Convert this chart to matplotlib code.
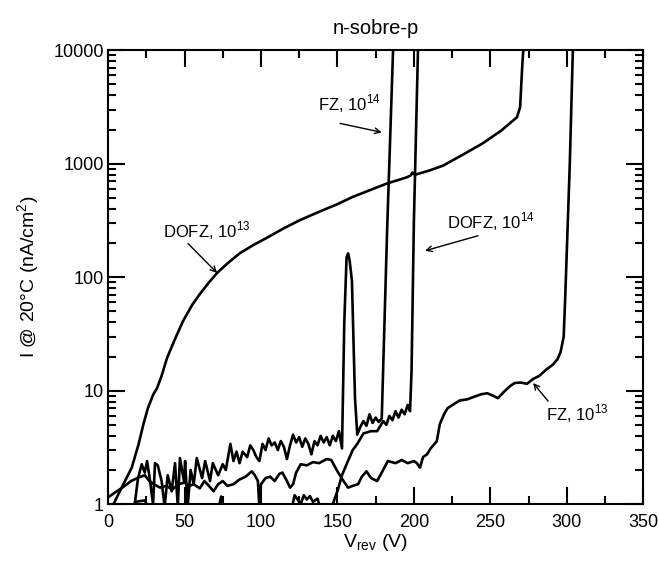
import matplotlib.pyplot as plt
from matplotlib.ticker import FixedLocator, NullFormatter

plt.rcParams['font.family'] = ['Liberation Sans', 'DejaVu Sans']

# DOFZ, 1e13 (smooth curve, breakdown near 270 V)
dofz13_v = [2, 5, 10, 15.5, 20, 23, 26, 29.6, 32, 35, 38.6, 44, 49, 55, 60, 66, 71, 78,
            86, 95, 104, 115, 125, 137, 150, 160, 172, 182.5, 190, 195.6, 198, 199, 200,
            201, 210, 219, 232, 245, 257, 267.5, 269.5, 271, 272, 272.5]
dofz13_i = [0.9, 1.1, 1.5, 2.1, 3.4, 5.0, 7.0, 9.3, 10.5, 13.5, 19.5, 29, 41, 57, 71, 90,
            108, 132, 162, 192, 223, 270, 316, 372, 440, 510, 590, 670, 720, 760, 790,
            835, 810, 800, 870, 960, 1200, 1510, 1950, 2570, 3150, 7700, 12000, 20000]

# FZ, 1e14 (noisy, spike near 157 V, breakdown near 182 V)
fz14_v = [17, 19.6, 22, 24, 25.5, 27.5, 29.4, 30.7, 32.5, 35, 37, 39, 41.6, 43.8, 45.6,
          47, 49.6, 50.4, 52, 54, 56, 58, 61.5, 63.5, 66.7, 68.5, 72, 75, 77, 80, 82,
          84, 86, 88, 91, 93, 95, 97, 99, 101, 103, 105, 107, 109, 111, 113, 115, 117,
          119, 121, 123, 125, 127, 129, 131, 133, 135, 137, 139, 141, 143, 145, 147,
          149, 151, 153, 154.5, 156, 157, 158, 159.5, 161.5, 163, 165, 167, 169, 171,
          173, 175, 177, 179, 180, 182.5, 186.4, 187]
fz14_i = [0.9, 1.7, 2.25, 1.9, 2.4, 1.6, 1.0, 2.3, 2.2, 1.6, 0.95, 1.8, 1.3, 2.3, 0.95,
          2.55, 1.6, 2.4, 0.95, 2.0, 1.5, 2.55, 1.7, 2.4, 1.6, 2.3, 1.8, 2.25, 2.0, 3.4,
          2.4, 2.9, 2.3, 2.9, 2.6, 3.3, 3.0, 2.6, 2.4, 3.4, 3.0, 3.8, 3.3, 3.5, 3.0, 3.6,
          3.2, 2.5, 3.3, 4.1, 3.5, 3.9, 3.2, 3.8, 3.4, 2.75, 3.6, 3.3, 4.0, 3.5, 3.9,
          3.3, 4.0, 3.6, 4.4, 3.1, 40, 150, 162, 140, 93, 8.6, 4.1, 4.8, 5.4, 4.9, 6.2,
          5.2, 5.8, 5.3, 5.7, 17, 256, 10000, 20000]

# DOFZ, 1e14 (below 1 nA/cm2 until ~147 V, breakdown near 200 V)
dofz14_v = [0, 14, 18, 24, 27, 72, 74, 75, 120, 122, 124, 126, 128, 130, 132, 134, 137,
            139, 146, 148, 150, 153, 156, 160, 163, 167, 172, 176, 180, 182, 184, 186,
            188, 190, 192, 194, 196, 197.5, 198.5, 200, 202.7, 203]
dofz14_i = [0.8, 0.9, 1.05, 1.08, 0.9, 0.9, 1.17, 0.9, 0.9, 1.2, 1.1, 1.0, 1.2, 1.1,
            1.18, 1.05, 1.12, 0.9, 0.9, 1.1, 1.3, 1.8, 2.25, 3.0, 3.4, 4.2, 4.4, 4.4,
            5.4, 5.0, 6.0, 5.5, 6.6, 5.8, 6.8, 6.2, 7.5, 6.6, 15, 300, 10000, 20000]

# FZ, 1e13 (low curve, breakdown near 300 V)
fz13_v = [0, 5, 10, 15, 20, 24, 27, 30, 34, 38, 42, 46, 50, 53, 56, 60, 63, 66, 69, 72,
          75, 78, 82, 86, 90, 94, 96, 98, 99, 100, 103, 106, 109, 112, 114, 117, 119,
          121, 123, 126, 130, 134, 138, 143, 146, 150, 154, 157, 160, 163.5, 166, 169,
          172, 176, 179, 183, 188, 192, 196, 200, 202, 204, 206, 208.6, 211, 215, 217,
          220, 222, 226, 230, 235, 240, 244, 248, 252, 255, 259, 263, 266, 270, 274,
          278, 282, 287, 291, 294, 296, 298, 299, 302, 304, 304.5]
fz13_i = [1.15, 1.28, 1.42, 1.6, 1.72, 1.8, 1.6, 1.5, 1.4, 1.45, 1.35, 1.5, 1.55, 1.45,
          1.5, 1.38, 1.6, 1.45, 1.3, 1.5, 1.6, 1.45, 1.5, 1.65, 1.75, 1.95, 1.8, 1.6,
          0.9, 1.5, 1.7, 1.75, 1.6, 1.85, 1.9, 1.6, 1.4, 1.5, 1.9, 2.25, 2.2, 2.35, 2.3,
          2.5, 2.45, 1.95, 1.6, 1.4, 1.45, 1.5, 1.75, 1.95, 1.7, 1.6, 1.9, 2.4, 2.3,
          2.45, 2.3, 2.4, 2.3, 2.1, 2.6, 2.75, 3.1, 3.6, 5.1, 6.3, 7.0, 7.6, 8.2, 8.4,
          8.9, 9.3, 9.5, 9.0, 8.6, 9.8, 11.0, 11.7, 11.8, 11.5, 12.7, 13.5, 15.5, 17,
          19, 22, 30, 66, 1000, 10000, 20000]

x_ticks = [0, 50, 100, 150, 200, 250, 300, 350]
y_ticks = [1, 10, 100, 1000, 10000]
y_labels = ['1', '10', '100', '1000', '10000']

fig = plt.figure(figsize=(6.59, 5.64), dpi=100)
ax = fig.add_axes([0.164, 0.106, 0.812, 0.805])

lw = 1.9
for v, i in [(dofz13_v, dofz13_i), (fz14_v, fz14_i), (dofz14_v, dofz14_i), (fz13_v, fz13_i)]:
    ax.plot(v, i, color='black', lw=lw, solid_joinstyle='round')

ax.set_yscale('log')
ax.set_xlim(0, 350)
ax.set_ylim(1, 10000)

# minor log ticks 2..9 in each decade
y_minor = [k * 10 ** d for d in range(4) for k in range(2, 10)]

ax.xaxis.set_major_locator(FixedLocator(x_ticks))
ax.xaxis.set_minor_locator(FixedLocator([25, 75, 125, 175, 225, 275, 325]))
ax.yaxis.set_major_locator(FixedLocator(y_ticks))
ax.set_yticklabels(y_labels)
ax.yaxis.set_minor_locator(FixedLocator(y_minor))
ax.yaxis.set_minor_formatter(NullFormatter())

ax.tick_params(which='both', direction='in', top=True, right=True, labelsize=13,
               width=1.5, color='black')
ax.tick_params(which='major', length=12)
ax.tick_params(axis='x', which='major', pad=7)
ax.tick_params(axis='y', which='major', pad=3)
ax.tick_params(which='minor', length=6)
for s in ax.spines.values():
    s.set_linewidth(1.5)

ax.set_title('n-sobre-p', fontsize=14.5, pad=12)
ax.set_xlabel('V$_{\\mathregular{rev}}$ (V)', fontsize=14, labelpad=1)
ax.set_ylabel('I @ 20°C (nA/cm$^{\\mathregular{2}}$)', fontsize=14, labelpad=8)

arrow = dict(arrowstyle='->', color='black', lw=1.0, shrinkA=0, shrinkB=0)
ax.annotate('', xy=(179, 1890), xytext=(151.7, 2265), arrowprops=arrow)
ax.text(157.6, 3400, 'FZ, 10$^{\\mathregular{14}}$', ha='center', va='center', fontsize=12)
ax.annotate('', xy=(207.3, 171), xytext=(242, 232), arrowprops=arrow)
ax.text(250.5, 309, 'DOFZ, 10$^{\\mathregular{14}}$', ha='center', va='center', fontsize=12)
ax.annotate('', xy=(71.3, 109), xytext=(52.3, 198), arrowprops=arrow)
ax.text(64.7, 257, 'DOFZ, 10$^{\\mathregular{13}}$', ha='center', va='center', fontsize=12)
ax.annotate('', xy=(278, 11.7), xytext=(287.8, 8.1), arrowprops=arrow)
ax.text(306.7, 6.24, 'FZ, 10$^{\\mathregular{13}}$', ha='center', va='center', fontsize=12)

fig.savefig('out.png', dpi=100)
